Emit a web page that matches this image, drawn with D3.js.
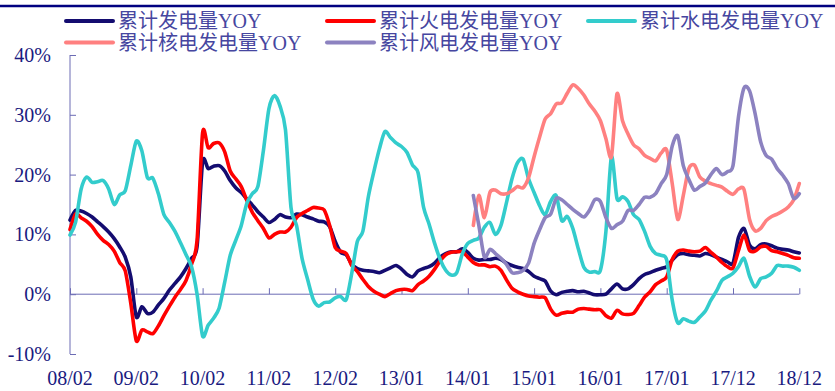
<!DOCTYPE html>
<html><head><meta charset="utf-8">
<script src="https://cdn.jsdelivr.net/npm/d3@7"></script>
<style>
html,body{margin:0;padding:0;background:#fff;}
svg{display:block;}
</style>
</head><body>
<svg id="chart" width="835" height="391"></svg>
<script>
const seriesNames = ["累计发电量YOY","累计火电发电量YOY","累计水电发电量YOY","累计核电发电量YOY","累计风电发电量YOY"];
const tickLabels = ["08/02","09/02","10/02","11/02","12/02","13/01","14/01","15/01","16/01","17/01","17/12","18/12"];
const yTicks = [-10,0,10,20,30,40];

const total = [12.4,14.0,13.9,13.5,12.9,12.1,11.3,10.4,9.3,7.9,6.2,2.9,-3.8,-2.1,-3.2,-3.0,-1.8,-0.7,0.7,1.8,
2.9,4.3,6.0,8.0,22.1,21.0,21.4,21.5,20.6,19.0,17.8,17.0,15.9,14.9,13.8,12.9,12.0,12.5,13.3,12.9,
12.8,13.4,13.3,12.9,12.6,12.2,12.1,11.3,8.8,7.0,6.6,5.0,4.3,4.0,3.9,3.8,3.6,4.0,4.4,4.8,
4.2,3.3,2.9,3.9,4.3,4.6,5.2,6.2,6.8,7.1,7.1,7.6,7.0,6.0,5.7,5.8,5.8,6.0,5.8,5.2,
4.8,4.5,4.3,3.8,3.0,2.6,2.2,0.5,-0.1,0.3,0.5,0.6,0.4,0.5,0.2,-0.1,-0.1,0.0,0.9,1.7,
0.9,0.9,1.6,2.6,3.3,3.6,4.0,4.3,4.6,5.7,6.6,6.8,6.6,6.5,6.4,6.8,6.6,6.2,5.8,5.4,
5.2,9.5,11.0,8.2,7.6,8.3,8.4,8.1,7.7,7.5,7.4,7.1,6.9];

const thermal = [10.8,13.4,12.8,12.2,11.3,10.0,9.0,8.3,7.2,5.3,3.9,-1.5,-7.8,-6.0,-6.3,-6.6,-5.3,-3.6,-2.0,-0.5,
0.8,2.3,5.0,9.0,27.0,24.5,25.2,25.3,23.8,20.6,19.3,18.0,15.7,13.7,12.3,11.0,9.4,10.0,10.4,10.4,
11.2,12.8,13.5,14.0,14.5,14.4,14.1,11.5,7.8,7.2,6.8,4.8,3.8,2.5,1.3,0.5,0.0,-0.4,0.1,0.6,
0.8,0.8,0.6,1.6,2.2,3.0,4.2,5.6,6.6,7.0,7.1,7.1,6.2,5.3,4.9,4.9,4.6,4.7,4.0,2.4,
1.0,0.4,0.0,-0.3,-0.4,-0.5,-0.6,-2.5,-3.5,-3.2,-3.0,-3.0,-2.5,-2.4,-2.5,-2.6,-2.6,-3.6,-4.0,-2.7,
-3.3,-3.4,-3.2,-1.9,-0.5,0.4,1.6,2.2,2.9,5.8,7.2,7.4,7.2,7.1,7.2,7.8,7.0,6.2,5.3,4.6,
4.4,7.3,9.9,7.3,7.2,7.9,8.0,7.3,7.1,6.8,6.5,6.1,6.0];

const hydro = [9.9,12.0,17.5,19.6,18.7,18.8,19.0,17.6,15.0,16.6,17.3,21.5,25.6,24.0,19.5,19.4,16.8,13.3,12.0,10.5,
8.6,6.6,4.6,0.0,-7.0,-5.2,-4.0,-2.3,2.0,6.5,9.0,11.5,15.2,16.8,18.0,24.0,31.0,33.2,31.5,27.5,
14.5,11.5,6.0,2.5,-0.8,-2.0,-1.4,-1.3,-0.6,-0.4,-0.9,3.5,8.8,10.5,16.3,20.5,24.3,27.2,26.2,25.3,
24.7,23.7,21.6,20.3,14.5,11.7,8.5,5.8,4.0,3.2,3.6,6.7,8.5,9.0,9.4,11.2,12.0,10.0,11.5,15.3,
19.3,22.0,22.6,19.3,17.0,14.8,13.3,15.5,16.5,12.3,13.0,11.0,7.6,4.5,3.7,3.8,4.0,10.5,23.0,16.0,
16.3,15.5,13.3,12.5,10.5,8.0,6.8,6.5,5.7,-1.0,-4.8,-4.1,-4.5,-4.7,-3.8,-2.8,-1.0,0.5,2.3,2.9,
3.5,4.6,6.0,3.0,1.2,2.6,2.9,3.5,4.8,4.7,4.7,4.5,4.0];

// nuclear and wind start at index 73
const nuclear = [11.5,16.5,12.8,17.0,17.4,16.8,16.8,17.3,18.0,17.8,19.5,23.0,26.3,29.3,30.2,31.8,32.0,33.6,35.0,34.4,
33.3,31.8,30.6,29.0,26.0,23.0,33.5,29.0,26.8,25.0,24.3,23.2,22.7,22.3,23.6,24.1,18.5,12.5,16.5,21.0,
21.6,19.6,18.9,18.5,18.2,17.9,17.2,16.7,17.6,17.5,12.5,10.6,11.0,12.3,13.0,13.4,13.9,14.6,15.8,18.5];

const wind = [16.5,11.5,6.2,7.5,6.8,6.0,5.0,3.6,3.6,4.0,5.2,8.5,10.8,12.8,13.4,16.0,15.8,15.0,14.2,13.5,
12.9,14.0,15.8,15.5,12.8,11.0,11.6,12.2,14.0,14.0,15.0,16.2,16.2,16.8,18.5,20.0,24.8,26.5,21.5,19.2,
17.4,18.0,18.6,20.0,21.0,20.0,20.5,21.5,29.7,34.5,34.0,30.2,25.5,23.2,22.6,21.0,19.9,18.5,16.0,16.8];
const lateStart = 73;

const colors = ["#140c70","#ff0000","#33cccc","#ff8080","#8c82c0"];

const svg = d3.select("#chart");
const N = total.length;
const x = d3.scaleLinear().domain([0, N - 1]).range([70, 799.3]);
const y = d3.scaleLinear().domain([-10, 40]).range([354, 55]);

// top rule
svg.append("line").attr("x1",0).attr("x2",835).attr("y1",6).attr("y2",6)
  .attr("stroke","#000080").attr("stroke-width",2.5);

const axisColor = "#6c6cb4";
const labelColor = "#1a1a80";

// y axis
const yAxis = d3.axisRight(y).tickValues(yTicks).tickSize(6).tickFormat("");
const gy = svg.append("g").attr("transform","translate(70,0)").call(yAxis);
gy.select(".domain").attr("stroke",axisColor).attr("d","M0,"+y(40)+"V"+y(-10));
gy.selectAll(".tick line").attr("stroke",axisColor);
svg.append("g").selectAll("text").data(yTicks).join("text")
  .attr("x",51).attr("y",d=>y(d)).attr("dy","0.35em")
  .attr("text-anchor","end")
  .attr("font-family","'Liberation Serif','Times New Roman',serif")
  .attr("font-size",20).attr("fill",labelColor)
  .text(d=>d+"%");

// x axis at 0
const tickIdx = tickLabels.map((_,i)=>i*12);
const xAxis = d3.axisTop(x).tickValues(tickIdx).tickSize(6).tickFormat("");
const gx = svg.append("g").attr("transform","translate(0,"+y(0)+")").call(xAxis);
gx.select(".domain").attr("stroke",axisColor).attr("d","M"+x(0)+",0H"+x(N-1));
gx.selectAll(".tick line").attr("stroke",axisColor);
svg.append("g").selectAll("text").data(tickLabels).join("text")
  .attr("x",(d,i)=>x(tickIdx[i])).attr("y",385)
  .attr("text-anchor","middle")
  .attr("font-family","'Liberation Serif','Times New Roman',serif")
  .attr("font-size",20).attr("fill",labelColor)
  .text(d=>d);

// lines
const allSeries = [
  total.map((v,i)=>[i,v]),
  thermal.map((v,i)=>[i,v]),
  hydro.map((v,i)=>[i,v]),
  nuclear.map((v,i)=>[i+lateStart,v]),
  wind.map((v,i)=>[i+lateStart,v])
];
const line = d3.line().x(d=>x(d[0])).y(d=>y(d[1])).curve(d3.curveCardinal.tension(0.2));
svg.append("g").selectAll("path").data(allSeries).join("path")
  .attr("d",line).attr("fill","none")
  .attr("stroke",(d,i)=>colors[i]).attr("stroke-width",3.6)
  .attr("stroke-linejoin","round").attr("stroke-linecap","round");

// legend
const legendPos = [[66,21],[327,21],[588,21],[66,42.5],[327,42.5]];
const lg = svg.append("g").selectAll("g").data(seriesNames).join("g")
  .attr("transform",(d,i)=>"translate("+legendPos[i][0]+","+legendPos[i][1]+")");
lg.append("line").attr("x1",0).attr("x2",47).attr("y1",0).attr("y2",0)
  .attr("stroke",(d,i)=>colors[i]).attr("stroke-width",4).attr("stroke-linecap","round");
lg.append("text").attr("x",52).attr("y",0).attr("dy","0.36em")
  .attr("font-family","'Liberation Serif','Noto Sans CJK SC',serif")
  .attr("font-size",20).attr("fill","#4646a0")
  .text(d=>d);
</script>
</body></html>
